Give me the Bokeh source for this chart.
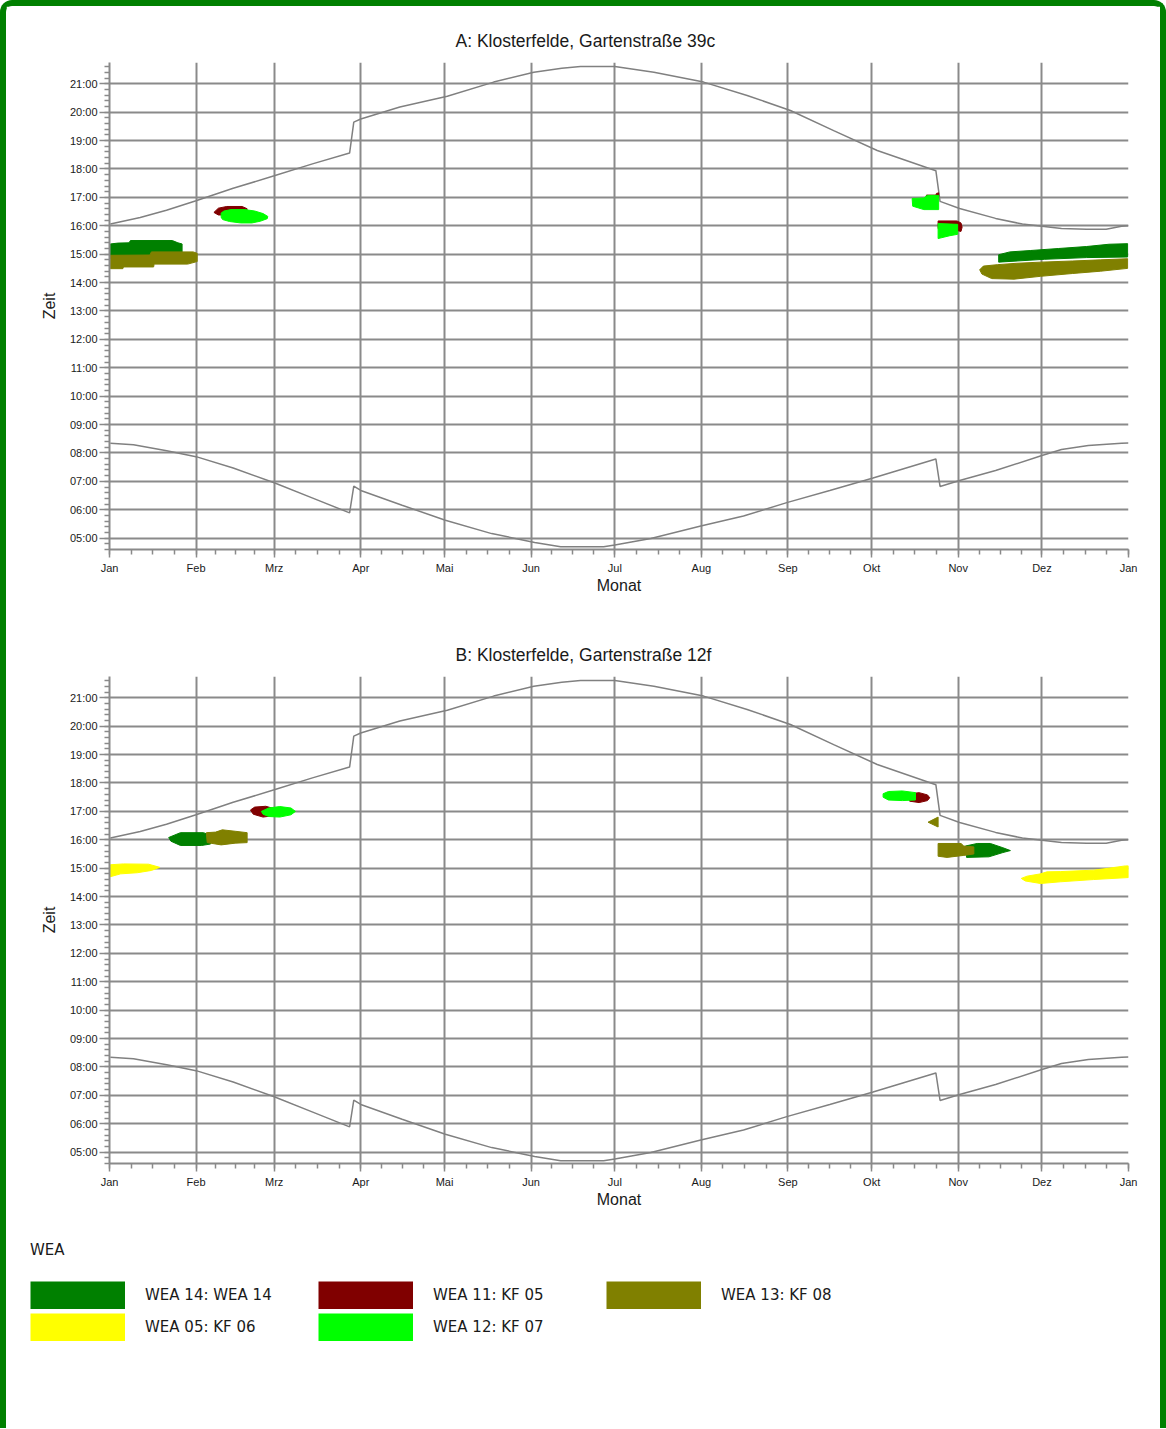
from bokeh.plotting import figure
from bokeh.models import Range1d, FixedTicker, Legend, LegendItem
from bokeh.layouts import column
from bokeh.embed import file_html
from bokeh.resources import INLINE

# ---------------- axis data ----------------
month_labels = ["Jan", "Feb", "Mrz", "Apr", "Mai", "Jun", "Jul", "Aug", "Sep", "Okt", "Nov", "Dez", "Jan"]
month_days = [0, 31, 59, 90, 120, 151, 181, 212, 243, 273, 304, 334, 365]
hour_ticks = [5, 6, 7, 8, 9, 10, 11, 12, 13, 14, 15, 16, 17, 18, 19, 20, 21]
hour_labels = ["05:00", "06:00", "07:00", "08:00", "09:00", "10:00", "11:00", "12:00", "13:00",
               "14:00", "15:00", "16:00", "17:00", "18:00", "19:00", "20:00", "21:00"]

# ---------------- sun data (day of year, hours) ----------------
sunset_day = [0.3, 11, 20.4, 31, 44.3, 59, 72.7, 86.0, 87.5, 90, 104, 121, 137.6, 152, 162, 168.7,
              181, 195, 212.8, 228.4, 243.9, 259.4, 275, 296.0, 297.5, 304.5, 317.4, 327, 334, 341,
              350, 357, 362.5, 365]
sunset_h = [16.06, 16.29, 16.55, 16.88, 17.32, 17.76, 18.18, 18.56, 19.65, 19.76, 20.18, 20.56, 21.06,
            21.41, 21.55, 21.61, 21.61, 21.41, 21.06, 20.59, 20.06, 19.35, 18.65, 17.94, 16.86, 16.61,
            16.26, 16.06, 15.98, 15.90, 15.88, 15.88, 15.98, 16.0]

sunrise_day = [0.3, 8.6, 20.5, 31, 44.3, 59, 72.8, 86.0, 87.5, 90, 104.8, 120.3, 136.9, 152.3, 161.6,
               177, 181, 193.9, 211.8, 227.1, 242.6, 258, 273.5, 296.0, 297.5, 304.5, 317.4, 334, 341,
               350.6, 362.5, 365]
sunrise_h = [8.34, 8.29, 8.08, 7.87, 7.47, 6.95, 6.41, 5.89, 6.83, 6.68, 6.16, 5.63, 5.16, 4.85, 4.70,
             4.70, 4.76, 4.99, 5.43, 5.78, 6.25, 6.68, 7.12, 7.79, 6.82, 7.03, 7.38, 7.91, 8.12, 8.26,
             8.34, 8.35]

# ---------------- shadow areas, chart A ----------------
a14_jan_d = [0.3, 3.0, 7.0, 7.5, 22.5, 24.5, 26.0, 26.0, 20.0, 10.0, 0.3]
a14_jan_h = [15.36, 15.39, 15.40, 15.48, 15.48, 15.40, 15.36, 15.02, 14.95, 14.92, 14.85]
a14_dec_d = [318.5, 322.5, 330.0, 340.0, 350.0, 358.0, 364.7, 364.7, 350.0, 335.0, 318.5]
a14_dec_h = [14.98, 15.08, 15.13, 15.20, 15.27, 15.35, 15.37, 14.90, 14.88, 14.82, 14.72]

a11_feb_d = [37.4, 39.0, 42.0, 47.5, 49.3, 49.0, 44.0, 39.0]
a11_feb_h = [16.47, 16.62, 16.68, 16.68, 16.60, 16.42, 16.38, 16.38]
a11_oct_d = [292.6, 296.0, 296.2, 297.0, 297.0, 292.6]
a11_oct_h = [17.08, 17.08, 17.14, 17.16, 17.00, 17.00]
a11_nov_d = [296.8, 303.5, 305.0, 305.4, 305.0, 303.0, 296.8]
a11_nov_h = [16.17, 16.17, 16.10, 15.95, 15.80, 15.85, 15.90]

a13_jan_d = [0.3, 14.5, 15.0, 30.0, 31.4, 31.4, 28.0, 16.0, 15.8, 5.0, 4.8, 0.3]
a13_jan_h = [14.96, 14.97, 15.08, 15.08, 15.03, 14.74, 14.65, 14.65, 14.55, 14.55, 14.49, 14.49]
a13_dec_d = [311.7, 313.0, 318.0, 325.0, 333.5, 345.0, 355.0, 364.7, 364.7, 355.0, 345.0, 333.5, 324.0, 316.0, 312.5]
a13_dec_h = [14.45, 14.58, 14.63, 14.68, 14.72, 14.76, 14.80, 14.84, 14.50, 14.40, 14.32, 14.22, 14.12, 14.14, 14.30]

a12_feb_d = [40.0, 41.0, 43.5, 48.5, 52.0, 55.0, 56.7, 56.5, 54.0, 51.0, 47.0, 43.0, 40.5, 40.0]
a12_feb_h = [16.45, 16.52, 16.57, 16.57, 16.52, 16.43, 16.33, 16.25, 16.16, 16.10, 16.10, 16.15, 16.22, 16.30]
a12_oct_d = [287.5, 291.7, 292.9, 297.0, 297.0, 291.7, 287.7]
a12_oct_h = [16.96, 16.98, 17.07, 17.07, 16.57, 16.57, 16.69]
a12_nov_d = [296.8, 303.8, 303.8, 301.0, 296.8]
a12_nov_h = [16.08, 16.05, 15.70, 15.65, 15.55]

# ---------------- shadow areas, chart B ----------------
b05_jan_d = [0.3, 5.0, 14.0, 18.0, 15.0, 10.0, 4.0, 0.3]
b05_jan_h = [15.12, 15.15, 15.14, 15.03, 14.92, 14.84, 14.80, 14.70]
b05_dec_d = [326.6, 328.7, 333.5, 335.8, 340.6, 352.5, 357.3, 363.9, 365.0, 365.0, 352.5, 340.6, 333.5, 328.0]
b05_dec_h = [14.64, 14.72, 14.80, 14.87, 14.88, 14.93, 14.99, 15.08, 15.08, 14.67, 14.60, 14.52, 14.46, 14.55]

b14_feb_d = [21.2, 25.4, 33.7, 36.2, 36.2, 33.0, 25.4, 22.0]
b14_feb_h = [16.08, 16.25, 16.25, 16.15, 15.85, 15.80, 15.80, 15.95]
b14_nov_d = [306.6, 310.8, 315.5, 320.0, 322.7, 320.0, 315.0, 307.0]
b14_nov_h = [15.78, 15.87, 15.87, 15.72, 15.62, 15.55, 15.40, 15.38]

b13_feb_d = [34.7, 38.0, 40.4, 45.0, 49.3, 49.3, 45.0, 40.0, 35.0]
b13_feb_h = [16.25, 16.27, 16.35, 16.30, 16.25, 15.90, 15.88, 15.82, 15.90]
b13_oct_d = [293.2, 296.8, 296.8]
b13_oct_h = [16.62, 16.80, 16.45]
b13_nov_d = [296.8, 305.0, 306.0, 309.6, 309.6, 306.0, 300.0, 296.8]
b13_nov_h = [15.87, 15.87, 15.78, 15.75, 15.50, 15.45, 15.38, 15.42]

b11_mar_d = [50.5, 52.0, 56.0, 58.8, 58.8, 55.0, 51.5]
b11_mar_h = [17.05, 17.15, 17.18, 17.10, 16.85, 16.80, 16.90]
b11_oct_d = [286.6, 290.0, 293.0, 293.8, 293.0, 290.0, 286.6]
b11_oct_h = [17.62, 17.66, 17.58, 17.48, 17.38, 17.31, 17.36]

b12_mar_d = [54.4, 57.0, 61.0, 65.0, 66.6, 65.0, 61.0, 57.0, 55.0]
b12_mar_h = [17.00, 17.12, 17.17, 17.12, 17.00, 16.88, 16.80, 16.82, 16.90]
b12_oct_d = [277.1, 279.0, 284.0, 288.7, 288.7, 284.0, 279.0, 277.1]
b12_oct_h = [17.62, 17.70, 17.72, 17.66, 17.40, 17.38, 17.40, 17.50]

# legend: (label, colour)
wea_names = ["WEA 14: WEA 14", "WEA 11: KF 05", "WEA 13: KF 08", "WEA 05: KF 06", "WEA 12: KF 07"]
wea_colors = ["#008000", "#800000", "#808000", "#ffff00", "#00ff00"]

GRID = "#8a8a8a"
TXT = "#1a1a1a"
NAN = float("nan")

x_minor = []
for i in range(12):
    a, b = month_days[i], month_days[i + 1]
    x_minor += [a + (b - a) * k / 4 for k in range(4)]
x_minor.append(365)
y_minor = [4.6 + 0.2 * k for k in range(87)]


def make_chart(title, series):
    p = figure(frame_width=1019, frame_height=487, x_range=Range1d(0, 365), y_range=Range1d(4.6, 21.75),
               output_backend="svg", toolbar_location=None,
               min_border_left=103, min_border_right=32, min_border_top=56, min_border_bottom=71)
    p.title.text = title
    p.title.align = "left"
    p.title.offset = 346
    p.title.standoff = 24
    p.title.text_font = "Liberation Sans"
    p.title.text_font_size = "17.5px"
    p.title.text_font_style = "normal"
    p.title.text_color = TXT
    p.outline_line_color = None
    p.background_fill_color = "white"

    p.xaxis.ticker = FixedTicker(ticks=month_days, minor_ticks=x_minor)
    p.xaxis.major_label_overrides = {d: m for d, m in zip(month_days, month_labels)}
    p.yaxis.ticker = FixedTicker(ticks=hour_ticks, minor_ticks=y_minor)
    p.yaxis.major_label_overrides = {h: l for h, l in zip(hour_ticks, hour_labels)}
    p.xaxis.axis_label = "Monat"
    p.yaxis.axis_label = "Zeit"
    for ax in (p.xaxis, p.yaxis):
        ax.axis_line_color = GRID
        ax.axis_line_width = 2
        ax.major_tick_line_color = GRID
        ax.minor_tick_line_color = GRID
        ax.major_tick_line_width = 1.5
        ax.minor_tick_line_width = 1.5
        ax.major_tick_in = 0
        ax.minor_tick_in = 0
        ax.major_label_text_font = "Liberation Sans"
        ax.major_label_text_font_size = "11px"
        ax.major_label_text_color = TXT
        ax.axis_label_text_font = "Liberation Sans"
        ax.axis_label_text_font_size = "16px"
        ax.axis_label_text_font_style = "normal"
        ax.axis_label_text_color = TXT
    p.xaxis.major_tick_out = 8
    p.xaxis.minor_tick_out = 5
    p.xaxis.major_label_standoff = 4
    p.xaxis.axis_label_standoff = 0
    p.yaxis.major_tick_out = 10
    p.yaxis.minor_tick_out = 5
    p.yaxis.major_label_standoff = 2
    p.yaxis.axis_label_standoff = 9
    p.grid.grid_line_color = GRID
    p.grid.grid_line_width = 2

    p.line(sunset_day, sunset_h, line_color="#808080", line_width=1.5)
    p.line(sunrise_day, sunrise_h, line_color="#808080", line_width=1.5)

    for color, polys in series:
        xs = [d for d, h in polys]
        ys = [h for d, h in polys]
        p.patches(xs, ys, fill_color=color, line_color=color, line_width=1)
    return p


series_a = [
    ("#008000", [(a14_jan_d, a14_jan_h), (a14_dec_d, a14_dec_h)]),
    ("#800000", [(a11_feb_d, a11_feb_h), (a11_oct_d, a11_oct_h), (a11_nov_d, a11_nov_h)]),
    ("#808000", [(a13_jan_d, a13_jan_h), (a13_dec_d, a13_dec_h)]),
    ("#00ff00", [(a12_feb_d, a12_feb_h), (a12_oct_d, a12_oct_h), (a12_nov_d, a12_nov_h)]),
]
series_b = [
    ("#008000", [(b14_feb_d, b14_feb_h), (b14_nov_d, b14_nov_h)]),
    ("#800000", [(b11_mar_d, b11_mar_h), (b11_oct_d, b11_oct_h)]),
    ("#808000", [(b13_feb_d, b13_feb_h), (b13_oct_d, b13_oct_h), (b13_nov_d, b13_nov_h)]),
    ("#ffff00", [(b05_jan_d, b05_jan_h), (b05_dec_d, b05_dec_h)]),
    ("#00ff00", [(b12_mar_d, b12_mar_h), (b12_oct_d, b12_oct_h)]),
]

pA = make_chart("A: Klosterfelde, Gartenstraße 39c", series_a)
pB = make_chart("B: Klosterfelde, Gartenstraße 12f", series_b)

# ---------------- legend ----------------
lp = figure(width=1154, height=194, x_range=Range1d(0, 1), y_range=Range1d(0, 1),
            x_axis_type=None, y_axis_type=None, output_backend="svg", toolbar_location=None,
            min_border_left=24, min_border_top=0, min_border_right=0, min_border_bottom=0)
lp.grid.visible = False
lp.outline_line_color = None
items = []
for name, col in zip(wea_names, wea_colors):
    r = lp.line(x=[NAN], y=[NAN], line_color=col, line_width=28)
    items.append(LegendItem(label=name, renderers=[r]))
leg = Legend(items=items, location=(0, 87), orientation="horizontal", ncols=3,
             glyph_width=95, glyph_height=28, label_standoff=20, label_width=169, spacing=4,
             padding=0, margin=0, border_line_color=None, background_fill_alpha=0,
             title="WEA", title_text_font="DejaVu Sans", title_text_font_size="15px",
             title_text_font_style="normal", title_text_color=TXT, title_standoff=22,
             label_text_font="DejaVu Sans", label_text_font_size="15px", label_text_color=TXT)
lp.add_layout(leg)

layout = column(column(pA, pB, spacing=0), lp, spacing=0,
                styles={"border-top": "6px solid #008000", "border-left": "6px solid #008000",
                        "border-right": "6px solid #008000",
                        "border-top-left-radius": "12px", "border-top-right-radius": "12px"})

open("out.html", "w").write(file_html(layout, INLINE))
